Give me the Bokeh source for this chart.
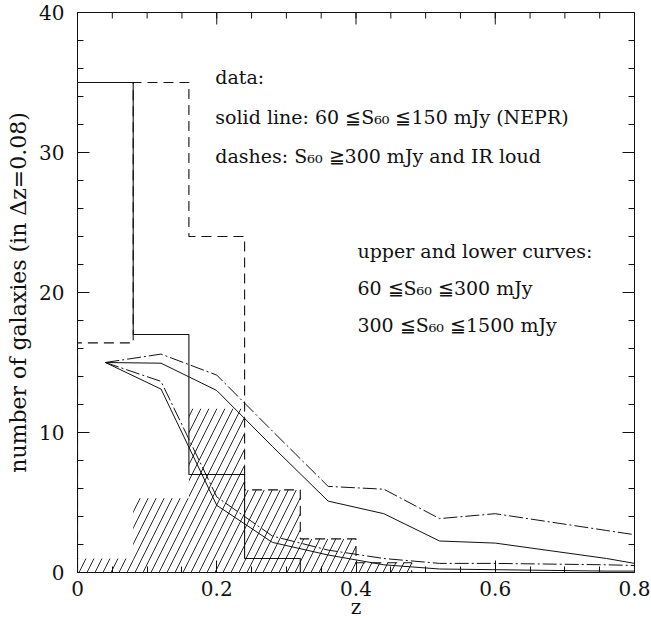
import math
import numpy as np
from bokeh.plotting import figure
from bokeh.models import FixedTicker, Range1d
from bokeh.core.properties import value
from bokeh.embed import file_html
from bokeh.resources import INLINE

# ---- data -------------------------------------------------------------
bin_width = 0.08
solid_hist = [35, 17, 7, 1]                      # 60<=S60<=150 mJy (NEPR)
dashed_hist = [16.4, 35, 24, 5.9, 2.4, 0.7]      # S60>=300 mJy and IR loud
hatched_hist = [1.0, 5.3, 11.7, 5.9, 2.4, 0.7]   # hatched sample

z_model = [0.04, 0.12, 0.20, 0.28, 0.36, 0.44, 0.52, 0.60, 0.68, 0.76, 0.80]
upper_dashdot = [15.0, 15.6, 14.1, 10.1, 6.15, 5.95, 3.85, 4.2, 3.6, 3.0, 2.7]
upper_solid = [15.0, 14.95, 13.0, 9.0, 5.1, 4.2, 2.25, 2.1, 1.55, 1.0, 0.65]
lower_dashdot = [15.0, 13.65, 5.4, 2.6, 1.6, 1.0, 0.65, 0.65, 0.6, 0.55, 0.5]
lower_solid = [15.0, 13.1, 4.8, 2.15, 1.25, 0.55, 0.25, 0.2, 0.15, 0.1, 0.1]

x_ticks = [0, 0.2, 0.4, 0.6, 0.8]
x_minor = [round(0.05 * i, 2) for i in range(17)]
y_ticks = [0, 10, 20, 30, 40]
y_minor = list(range(0, 41, 2))

note_lines = ["data:",
              "solid line: 60 \u2266S\u2086\u2080 \u2266150 mJy (NEPR)",
              "dashes: S\u2086\u2080 \u2267300 mJy and IR loud",
              "upper and lower curves:",
              "60 \u2266S\u2086\u2080 \u2266300 mJy",
              "300 \u2266S\u2086\u2080 \u22661500 mJy"]
note_x = [0.198, 0.198, 0.198, 0.402, 0.402, 0.402]
note_y = [35.4, 32.55, 29.75, 23.0, 20.3, 17.7]

X0, X1, Y0, Y1 = 0, 0.8, 0, 40
FONT = value("DejaVu Serif")
INK = "#111111"


def step_outline(vals):
    edges = np.arange(len(vals) + 1) * bin_width
    xs, ys = [0.0], [0.0]
    for i, v in enumerate(vals):
        xs += [edges[i], edges[i + 1]]
        ys += [v, v]
    xs.append(edges[-1])
    ys.append(0.0)
    return xs, ys


p = figure(width=651, height=621, x_range=Range1d(X0, X1), y_range=Range1d(Y0, Y1),
           output_backend="svg", toolbar_location=None,
           min_border_left=77, min_border_right=17, min_border_top=12, min_border_bottom=49)
p.xgrid.visible = False
p.ygrid.visible = False
p.outline_line_color = INK
p.outline_line_width = 1
p.background_fill_color = "white"
p.border_fill_color = "white"

for ax, tk, mn in ((p.xaxis[0], x_ticks, x_minor), (p.yaxis[0], y_ticks, y_minor)):
    ax.ticker = FixedTicker(ticks=tk, minor_ticks=mn)
    ax.major_tick_in = 12
    ax.major_tick_out = 0
    ax.minor_tick_in = 6
    ax.minor_tick_out = 0
    ax.axis_line_color = INK
    ax.major_tick_line_color = INK
    ax.minor_tick_line_color = INK
    ax.major_label_text_font = "DejaVu Serif"
    ax.major_label_text_font_size = "20px"
    ax.major_label_text_color = INK
    ax.axis_label_text_font = "DejaVu Serif"
    ax.axis_label_text_font_size = "20px"
    ax.axis_label_text_font_style = "normal"
    ax.axis_label_text_color = INK

p.yaxis.axis_label_text_font_size = "22px"
p.xaxis.axis_label = "z"
p.yaxis.axis_label = "number of galaxies (in \u0394z=0.08)"
p.xaxis.major_label_overrides = {0: "0"}
p.xaxis.major_label_standoff = 8
p.xaxis.axis_label_standoff = -4
p.yaxis.major_label_standoff = 13
p.yaxis.axis_label_standoff = 5

# inward ticks on the top and right frame edges
p.ray(x=x_ticks, y=[Y1] * len(x_ticks), length=12, length_units="screen",
      angle=-math.pi / 2, line_color=INK, line_width=1)
p.ray(x=x_minor, y=[Y1] * len(x_minor), length=6, length_units="screen",
      angle=-math.pi / 2, line_color=INK, line_width=1)
p.ray(x=[X1] * len(y_ticks), y=y_ticks, length=12, length_units="screen",
      angle=math.pi, line_color=INK, line_width=1)
p.ray(x=[X1] * len(y_minor), y=y_minor, length=6, length_units="screen",
      angle=math.pi, line_color=INK, line_width=1)

# hatched histogram
left_edges = [i * bin_width for i in range(len(hatched_hist))]
right_edges = [(i + 1) * bin_width for i in range(len(hatched_hist))]
p.quad(left=left_edges, right=right_edges, bottom=0, top=hatched_hist,
       fill_color=None, line_color=None, hatch_pattern="/", hatch_scale=16,
       hatch_color=INK, hatch_weight=0.9)

# histograms
xs, ys = step_outline(solid_hist)
p.line(xs, ys, line_color=INK, line_width=1.1)
xs, ys = step_outline(dashed_hist)
p.line(xs, ys, line_color=INK, line_width=1.1, line_dash="10 6")

# model curves
p.line(z_model, upper_dashdot, line_color=INK, line_width=1, line_dash="14 3 2 3")
p.line(z_model, upper_solid, line_color=INK, line_width=1)
p.line(z_model, lower_dashdot, line_color=INK, line_width=1, line_dash="14 3 2 3")
p.line(z_model, lower_solid, line_color=INK, line_width=1)

# annotations
p.text(x=note_x, y=note_y, text=note_lines, text_font=FONT, text_font_size="19px",
       text_color=INK, text_baseline="alphabetic", text_align="left")

open("out.html", "w").write(file_html(p, INLINE))
